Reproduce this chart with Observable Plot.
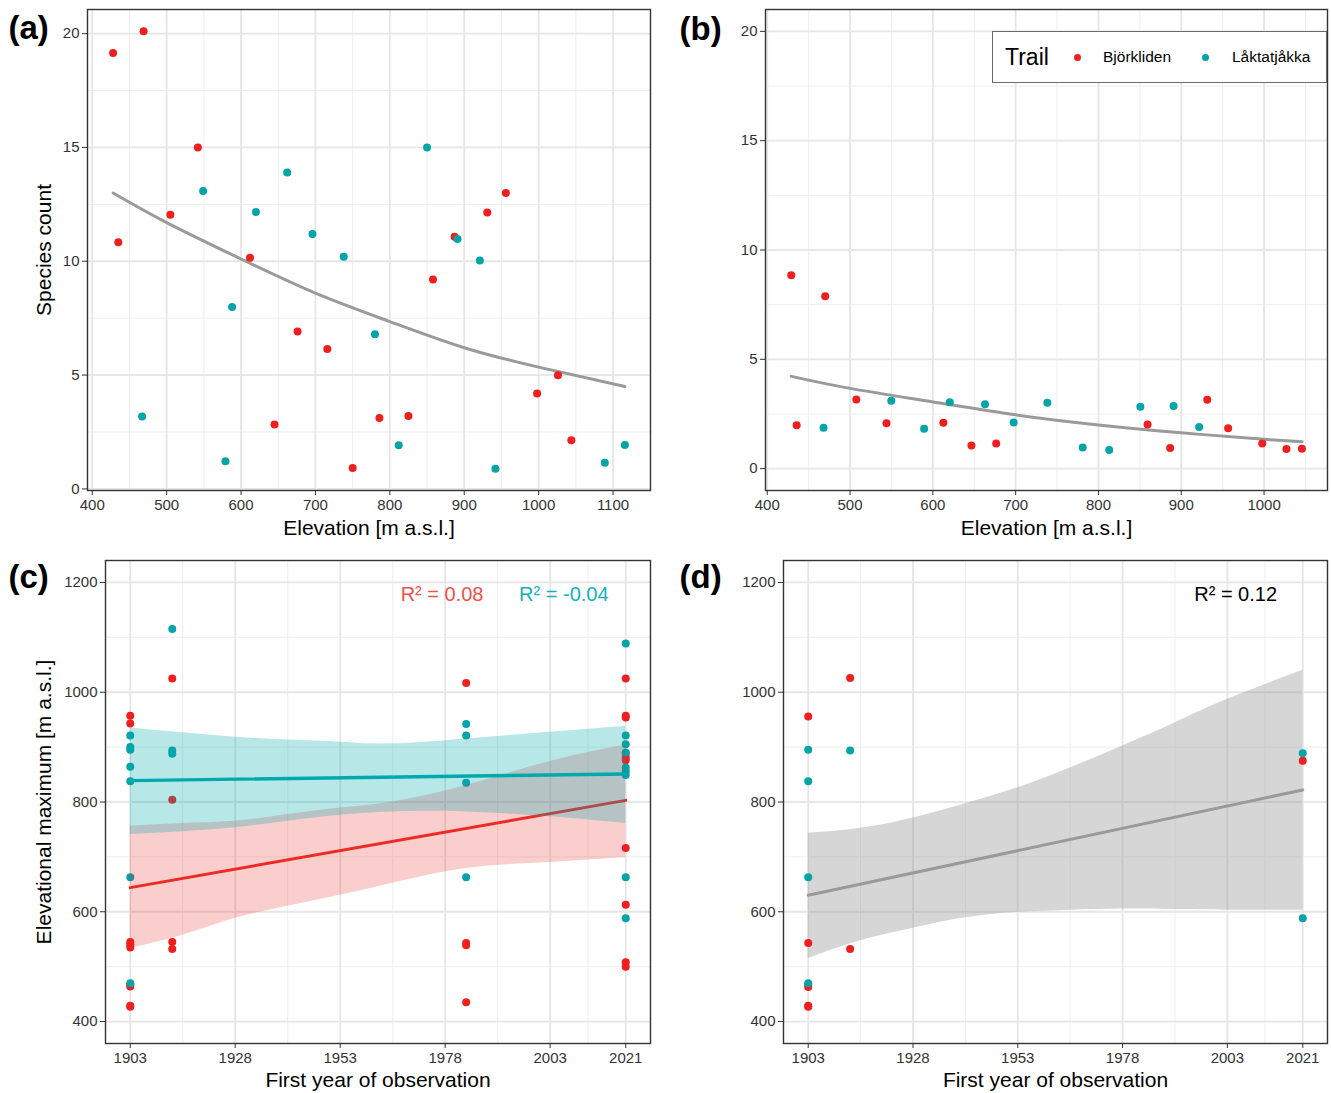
<!DOCTYPE html>
<html>
<head>
<meta charset="utf-8">
<script src="https://cdn.jsdelivr.net/npm/d3@7"></script>
<script src="https://cdn.jsdelivr.net/npm/@observablehq/plot@0.6"></script>
<style>
html, body { margin: 0; padding: 0; background: #fff; overflow: hidden; }
#fig { position: relative; width: 1331px; height: 1093px; font-family: 'Liberation Sans', Arial, Helvetica, sans-serif; }
#fig > svg { position: absolute; }
#legend { position: absolute; background: #fff; border: 1px solid #6a6a6a; box-sizing: border-box; }
#legend span { position: absolute; white-space: nowrap; color: #000; }
</style>
</head>
<body>
<div id="fig"></div>
<script>
// ---------- shared ----------
const trails = ["Björkliden", "Låktatjåkka"];
const trailColors = ["#F01F1F", "#04A4A8"];

// ---------- (a) species count vs elevation, all observations ----------
const aBjorkliden = [[428,19.15],[469,20.1],[435,10.83],[505,12.04],[542,15.0],[612,10.15],[645,2.83],[676,6.92],[716,6.15],[750,0.92],[786,3.11],[825,3.2],[858,9.2],[887,11.08],[931,12.14],[956,13.0],[998,4.19],[1026,4.99],[1044,2.14]];
const aLaktatjakka = [[467,3.18],[549,13.09],[579,1.21],[588,7.99],[620,12.16],[662,13.9],[696,11.2],[738,10.2],[780,6.79],[812,1.92],[850,15.0],[891,10.98],[921,10.03],[942,0.89],[1089,1.15],[1116,1.93]];
const aFitElev  = [428, 500, 600, 700, 800, 900, 1000, 1116];
const aFitCount = [13.0, 11.7, 10.1, 8.6, 7.35, 6.2, 5.35, 4.5];
const aXTicks = [400, 500, 600, 700, 800, 900, 1000, 1100];
const aXMinor = [450, 550, 650, 750, 850, 950, 1050];
const aYTicks = [0, 5, 10, 15, 20];
const aYMinor = [2.5, 7.5, 12.5, 17.5];

// ---------- (b) species count vs elevation, second set ----------
const bBjorkliden = [[429,8.85],[435.5,1.99],[470,7.89],[507.6,3.16],[544,2.08],[612.7,2.1],[646.6,1.06],[676.5,1.15],[859.3,2.02],[886.6,0.94],[931.4,3.15],[956.6,1.85],[997.8,1.15],[1027,0.9],[1045.7,0.91]];
const bLaktatjakka = [[468,1.87],[549.8,3.1],[589.5,1.82],[620.4,3.04],[663,2.95],[697.6,2.11],[738.3,3.01],[781,0.97],[813,0.85],[850.6,2.83],[890.7,2.87],[921.6,1.9]];
const bFitElev  = [429, 500, 600, 700, 800, 900, 1000, 1046];
const bFitCount = [4.22, 3.67, 3.05, 2.46, 2.0, 1.64, 1.34, 1.23];
const bXTicks = [400, 500, 600, 700, 800, 900, 1000];
const bXMinor = [450, 550, 650, 750, 850, 950, 1050];
const bYTicks = [0, 5, 10, 15, 20];
const bYMinor = [2.5, 7.5, 12.5, 17.5];

// ---------- (c) elevational maximum vs first year, by trail ----------
const cYears = [1903, 1913, 1983, 2021];
const cBjorkliden = [[957,943,545,540,535,467,464,429,427],[1025,804,545,532],[1017,543,539,435],[1025,957,954,888,881,876,716,613,508,500]];
const cLaktatjakka = [[921,900,895,864,838,663,470],[1115,894,888],[942,921,835,663],[1089,921,905,890,863,856,849,663,588]];
const cFitYears = [1903, 2021];
const cBjorkFit = [644, 803];
const cLaktFit = [839, 851];
const cBandYears = [1903, 1915.5, 1928, 1940.5, 1953, 1965.5, 1983, 2003, 2021];
const cBjorkLo = [533, 557, 588, 610, 630, 652, 679, 690, 699];
const cBjorkHi = [756, 761, 765, 777, 789, 800, 830, 874, 904];
const cLaktLo = [741, 746, 753, 765, 776, 782, 782, 773, 761];
const cLaktHi = [935, 926, 918, 913, 909, 906, 915, 927, 938];
const cR2Labels = ["R² = 0.08", "R² = -0.04"];
const cR2Years = [1967.4, 1995.6];
const cR2Elev = 1178;
const cXTicks = [1903, 1928, 1953, 1978, 2003, 2021];
const cXMinor = [1915.5, 1940.5, 1965.5, 1990.5, 2012];
const cYTicks = [400, 600, 800, 1000, 1200];
const cYMinor = [500, 700, 900, 1100];

// ---------- (d) elevational maximum vs first year, pooled ----------
const dYears = [1903, 1913, 2021];
const dBjorkliden = [[956,543,467,463,429,427],[1026,532],[875]];
const dLaktatjakka = [[895,838,663,470],[894],[889,588]];
const dFitYears = [1903, 2021];
const dFit = [630, 822];
const dBandYears = [1903, 1915.5, 1928, 1940.5, 1953, 1965.5, 1978, 1990.5, 2003, 2021];
const dLo = [515, 547, 570, 589, 599, 603, 605, 604, 603, 603];
const dHi = [743, 752, 771, 797, 826, 862, 902, 944, 987, 1040];
const dR2Label = "R² = 0.12";
const dR2Year = 1995.1;
const dR2Elev = 1178;

// ---------- helpers ----------
const FONT = "'Liberation Sans', Arial, Helvetica, sans-serif";
const pairs = (arr, trail) => arr.map(([x, y]) => ({x, y, trail}));
const columns = (years, cols, trail) => cols.flatMap((vals, i) => vals.map(v => ({x: years[i], y: v, trail})));
const curvePts = (xs, ys) => xs.map((x, i) => ({x, y: ys[i]}));
const bandPts = (xs, lo, hi) => xs.map((x, i) => ({x, lo: lo[i], hi: hi[i]}));
const fmt = d => String(d);

function panel(o) {
  const marks = [
    Plot.ruleX(o.xMinor, {stroke: "#EEEEEE", strokeWidth: 1}),
    Plot.ruleY(o.yMinor, {stroke: "#EEEEEE", strokeWidth: 1}),
    Plot.ruleX(o.xTicks, {stroke: "#E6E6E6", strokeWidth: 1.8}),
    Plot.ruleY(o.yTicks, {stroke: "#E6E6E6", strokeWidth: 1.8}),
    ...o.marks,
    Plot.frame({stroke: "#333", strokeWidth: 1.4}),
    Plot.axisX({ticks: o.xTicks, tickFormat: fmt, tickSize: 5, tickPadding: 4, label: null, stroke: "#333", fill: "#333", fontSize: 15}),
    Plot.axisY({ticks: o.yTicks, tickFormat: fmt, tickSize: 5, tickPadding: 3, label: null, stroke: "#333", fill: "#333", fontSize: 15}),
    Plot.text([o.label], {text: d => d, frameAnchor: "top-left", dx: o.labelDx, dy: o.labelDy, textAnchor: "start", lineAnchor: "middle", fontSize: 33, fontWeight: "bold", fill: "#000"}),
    Plot.text([o.xTitle], {text: d => d, frameAnchor: "bottom", dy: o.xTitleDy, textAnchor: "middle", lineAnchor: "middle", fontSize: 21, fill: "#000"})
  ];
  if (o.yTitle) marks.push(Plot.text([o.yTitle], {text: d => d, frameAnchor: "left", dx: o.yTitleDx, rotate: -90, textAnchor: "middle", lineAnchor: "middle", fontSize: 21, fill: "#000"}));
  const svg = Plot.plot({
    width: o.width, height: o.height,
    marginLeft: o.ml, marginRight: o.mr, marginTop: o.mt, marginBottom: o.mb,
    x: {domain: o.xDomain},
    y: {domain: o.yDomain},
    color: {domain: trails, range: trailColors},
    style: {fontFamily: FONT, fontSize: "15px", color: "#333", background: "transparent", overflow: "visible"},
    marks
  });
  svg.style.left = o.left + "px";
  svg.style.top = o.top + "px";
  return svg;
}

const fig = document.getElementById("fig");

// (a)
fig.appendChild(panel({
  left: 0, top: 0, width: 660, height: 548, ml: 87, mr: 10, mt: 9, mb: 58,
  xDomain: [393.6, 1150.4], yDomain: [-0.07, 21.06],
  xTicks: aXTicks, xMinor: aXMinor, yTicks: aYTicks, yMinor: aYMinor,
  label: "(a)", labelDx: -79, labelDy: 19,
  xTitle: "Elevation [m a.s.l.]", xTitleDy: 38,
  yTitle: "Species count", yTitleDx: -43,
  marks: [
    Plot.line(curvePts(aFitElev, aFitCount), {x: "x", y: "y", stroke: "#9A9A9A", strokeWidth: 3, curve: "natural"}),
    Plot.dot([...pairs(aBjorkliden, trails[0]), ...pairs(aLaktatjakka, trails[1])], {x: "x", y: "y", fill: "trail", r: 4})
  ]
}));

// (b)
fig.appendChild(panel({
  left: 660, top: 0, width: 671, height: 548, ml: 105, mr: 4, mt: 9, mb: 58,
  xDomain: [397.9, 1076.6], yDomain: [-1, 21],
  xTicks: bXTicks, xMinor: bXMinor, yTicks: bYTicks, yMinor: bYMinor,
  label: "(b)", labelDx: -86, labelDy: 20,
  xTitle: "Elevation [m a.s.l.]", xTitleDy: 38,
  marks: [
    Plot.line(curvePts(bFitElev, bFitCount), {x: "x", y: "y", stroke: "#9A9A9A", strokeWidth: 3, curve: "natural"}),
    Plot.dot([...pairs(bBjorkliden, trails[0]), ...pairs(bLaktatjakka, trails[1])], {x: "x", y: "y", fill: "trail", r: 4})
  ]
}));

// (c)
fig.appendChild(panel({
  left: 0, top: 548, width: 660, height: 545, ml: 105, mr: 10, mt: 12, mb: 50,
  xDomain: [1897.1, 2026.9], yDomain: [360, 1240],
  xTicks: cXTicks, xMinor: cXMinor, yTicks: cYTicks, yMinor: cYMinor,
  label: "(c)", labelDx: -97, labelDy: 17,
  xTitle: "First year of observation", xTitleDy: 37,
  yTitle: "Elevational maximum [m a.s.l.]", yTitleDx: -61,
  marks: [
    Plot.dot([...columns(cYears, cBjorkliden, trails[0]), ...columns(cYears, cLaktatjakka, trails[1])], {x: "x", y: "y", fill: "trail", r: 4}),
    Plot.areaY(bandPts(cBandYears, cBjorkLo, cBjorkHi), {x: "x", y1: "lo", y2: "hi", fill: "#EE2222", fillOpacity: 0.22, curve: "natural"}),
    Plot.line(curvePts(cFitYears, cBjorkFit), {x: "x", y: "y", stroke: "#EE2A24", strokeWidth: 3}),
    Plot.areaY(bandPts(cBandYears, cLaktLo, cLaktHi), {x: "x", y1: "lo", y2: "hi", fill: "#00A9AD", fillOpacity: 0.28, curve: "natural"}),
    Plot.line(curvePts(cFitYears, cLaktFit), {x: "x", y: "y", stroke: "#00A9AD", strokeWidth: 3.4}),
    Plot.text([cR2Labels[0]], {text: d => d, x: () => cR2Years[0], y: () => cR2Elev, textAnchor: "start", lineAnchor: "middle", fill: "#F0504A", fontSize: 20}),
    Plot.text([cR2Labels[1]], {text: d => d, x: () => cR2Years[1], y: () => cR2Elev, textAnchor: "start", lineAnchor: "middle", fill: "#12B3B8", fontSize: 20})
  ]
}));

// (d)
fig.appendChild(panel({
  left: 660, top: 548, width: 671, height: 545, ml: 123, mr: 4, mt: 12, mb: 50,
  xDomain: [1897.1, 2026.9], yDomain: [360, 1240],
  xTicks: cXTicks, xMinor: cXMinor, yTicks: cYTicks, yMinor: cYMinor,
  label: "(d)", labelDx: -104, labelDy: 17,
  xTitle: "First year of observation", xTitleDy: 37,
  marks: [
    Plot.areaY(bandPts(dBandYears, dLo, dHi), {x: "x", y1: "lo", y2: "hi", fill: "#999999", fillOpacity: 0.4, curve: "natural"}),
    Plot.line(curvePts(dFitYears, dFit), {x: "x", y: "y", stroke: "#9A9A9A", strokeWidth: 3}),
    Plot.dot([...columns(dYears, dBjorkliden, trails[0]), ...columns(dYears, dLaktatjakka, trails[1])], {x: "x", y: "y", fill: "trail", r: 4}),
    Plot.text([dR2Label], {text: d => d, x: () => dR2Year, y: () => dR2Elev, textAnchor: "start", lineAnchor: "middle", fill: "#000", fontSize: 20})
  ]
}));

// legend (inside panel b)
const legend = document.createElement("div");
legend.id = "legend";
Object.assign(legend.style, {left: "992px", top: "31px", width: "335px", height: "52px"});
const title = document.createElement("span");
title.textContent = "Trail";
Object.assign(title.style, {left: "12px", top: "12px", fontSize: "23px"});
legend.appendChild(title);
const swatchX = [84, 212];
const labelX = [110, 239];
trails.forEach((t, i) => {
  const dot = document.createElement("span");
  Object.assign(dot.style, {left: (swatchX[i] - 3.5) + "px", top: "22px", width: "7px", height: "7px", borderRadius: "50%", background: trailColors[i]});
  legend.appendChild(dot);
  const lab = document.createElement("span");
  lab.textContent = t;
  Object.assign(lab.style, {left: labelX[i] + "px", top: "16px", fontSize: "15.5px"});
  legend.appendChild(lab);
});
fig.appendChild(legend);
</script>
</body>
</html>
